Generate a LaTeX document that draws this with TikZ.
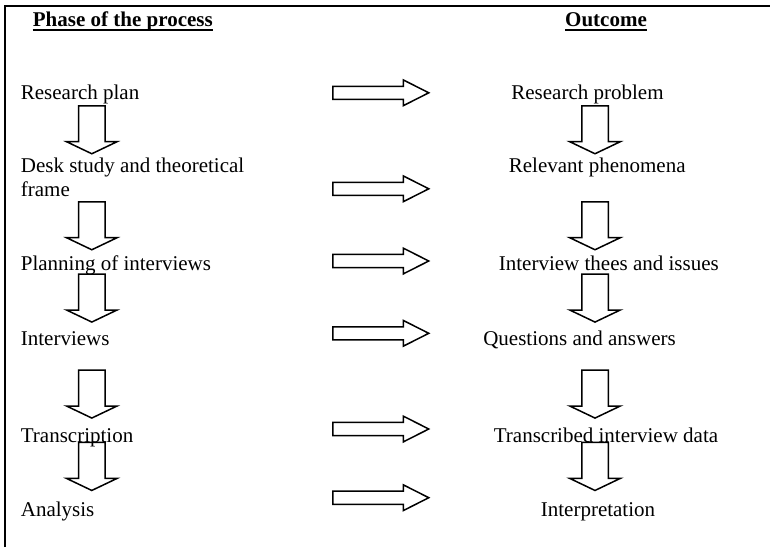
\documentclass[tikz,border=0pt]{standalone}
\usepackage{fontspec}
\setmainfont{Liberation Serif}
\usetikzlibrary{shapes.arrows}
\tikzset{
  phase/.style={anchor=base west, inner sep=0pt, align=left, font=\fontsize{21}{24}\selectfont},
  outc/.style={anchor=base, inner sep=0pt, font=\fontsize{21}{24}\selectfont},
  head/.style={anchor=base west, inner sep=0pt, font=\fontsize{21}{24}\selectfont\bfseries},
  rarrow/.style={draw, line width=1.5pt, shape=single arrow, inner xsep=0pt, inner ysep=5.8pt,
    minimum height=96pt, minimum width=24.3pt, anchor=tail,
    single arrow head extend=6.35pt, single arrow tip angle=53.7},
  darrow/.style={draw, line width=1.5pt, shape=single arrow, inner xsep=0pt, inner ysep=12.5pt,
    minimum height=48pt, minimum width=49pt, anchor=tail,
    single arrow head extend=12pt, single arrow tip angle=129, rotate=-90}
}
\begin{document}
\begin{tikzpicture}[x=1pt, y=-1pt]
  \useasboundingbox (0,0) rectangle (770,547);

  %%%%% FRAME %%%%%
  \draw[line width=2pt] (5.3,547) -- (5.3,5.7) -- (770,5.7);

  %%%%% HEADINGS %%%%%
  \node[head] (ph) at (32.7,26.5) {Phase of the process};
  \node[head] (oc) at (565,26.5) {Outcome};
  \draw[line width=1.8pt] ([yshift=-3.5pt]ph.base west) -- ([yshift=-3.5pt]ph.base east);
  \draw[line width=1.8pt] ([yshift=-3.5pt]oc.base west) -- ([yshift=-3.5pt]oc.base east);

  %%%%% PHASES %%%%%
  \node[phase] (rp) at (20.7,99) {Research plan};
  \node[phase] (ds) at (20.7,196.7) {Desk study and theoretical\\frame};
  \node[phase] (pi) at (20.7,270.7) {Planning of interviews};
  \node[phase] (iv) at (20.7,345) {Interviews};
  \node[phase] (tr) at (20.7,442.7) {Transcription};
  \node[phase] (an) at (20.7,516.7) {Analysis};

  %%%%% OUTCOMES %%%%%
  \node[outc] (rpb) at (587.5,99) {Research problem};
  \node[outc] (rph) at (597.2,172.7) {Relevant phenomena};
  \node[outc] (ith) at (608.8,270.7) {Interview thees and issues};
  \node[outc] (qa) at (579.5,345) {Questions and answers};
  \node[outc] (tid) at (606,442.7) {Transcribed interview data};
  \node[outc] (ip) at (598,516.7) {Interpretation};

  %%%%% ARROWS %%%%%
  \foreach \y [count=\i] in {92.8,188.8,261,333.3,429,497.7}
    \node[rarrow] (ra\i) at (332,\y) {};
  \foreach \y [count=\i] in {105,201,273.3,369.3,441.7} {
    \node[darrow] (dl\i) at (91.8,\y) {};
    \node[darrow] (dr\i) at (595,\y) {};
  }
\end{tikzpicture}
\end{document}
